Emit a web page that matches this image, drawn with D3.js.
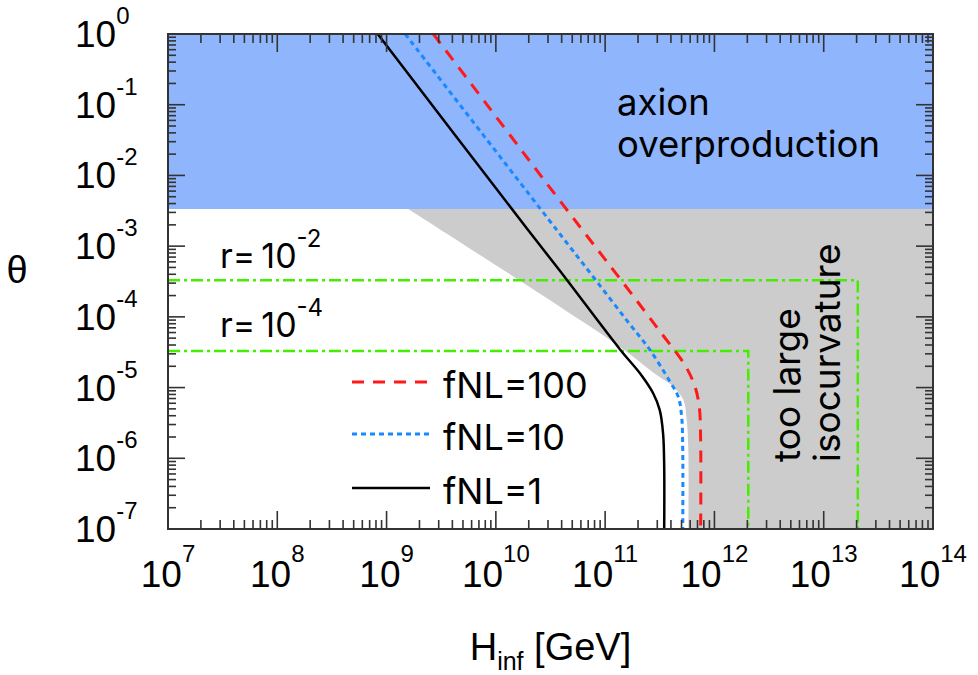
<!DOCTYPE html>
<html>
<head>
<meta charset="utf-8">
<script src="https://cdn.jsdelivr.net/npm/d3@7"></script>
<style>
body { margin: 0; background: #fff; }
</style>
</head>
<body>
<svg id="chart" width="978" height="675"></svg>
<script>
// curves: H_inf [GeV] and theta
var fnl100H = [2.68e9, 4.14e10, 1.52e11, 3.18e11, 5.37e11, 6.64e11, 7.26e11, 7.48e11, 7.48e11];
var fnl100Theta = [1, 3.8e-3, 2.8e-4, 6.2e-5, 2.08e-5, 1.03e-5, 5.4e-6, 1.81e-6, 1e-7];

var fnl10H = [1.48e9, 3.61e10, 7.8e10, 1.57e11, 2.57e11, 3.92e11, 4.67e11, 5.01e11, 5.13e11, 5.13e11];
var fnl10Theta = [1, 1.69e-3, 3.66e-4, 9.0e-5, 3.4e-5, 1.21e-5, 7.4e-6, 3.9e-6, 1.31e-6, 1e-7];

var fnl1H = [8.3e8, 1.9e10, 3.9e10, 1.38e11, 2.09e11, 2.75e11, 3.16e11, 3.39e11, 3.47e11, 3.47e11];
var fnl1Theta = [1, 1.82e-3, 4.37e-4, 3.4e-5, 1.58e-5, 8.3e-6, 4.8e-6, 2.24e-6, 7.6e-7, 1e-7];

// edge of the "too large isocurvature" region
var isoH = [1.58e9, 3.86e10, 1.37e11, 2.96e11, 4.2e11, 5.19e11, 5.57e11, 5.77e11, 5.77e11];
var isoTheta = [3.35e-3, 1.39e-4, 3.74e-5, 1.5e-5, 1.03e-5, 6.7e-6, 3.5e-6, 1.31e-6, 1e-7];

var overproductionTheta = 3.35e-3;

// r = 1e-2 and r = 1e-4 boxes
var rLabels = ["-2", "-4"];
var rTheta = [3.3e-4, 3.3e-5];
var rHmax = [2.05e13, 2.04e12];

var xTickExps = [7, 8, 9, 10, 11, 12, 13, 14];
var yTickExps = [0, -1, -2, -3, -4, -5, -6, -7];

var seriesNames = ["fNL=100", "fNL=10", "fNL=1"];

var svg = d3.select("#chart");
var plotLeft = 168, plotRight = 933, plotTop = 34, plotBottom = 529;

var x = d3.scaleLog().domain([1e7, 1e14]).range([plotLeft, plotRight]);
var y = d3.scaleLog().domain([1e-7, 1]).range([plotBottom, plotTop]);

svg.append("defs").append("clipPath").attr("id", "plotclip")
    .append("rect")
    .attr("x", plotLeft).attr("y", plotTop)
    .attr("width", plotRight - plotLeft).attr("height", plotBottom - plotTop);

var g = svg.append("g").attr("clip-path", "url(#plotclip)");

// blue band
g.append("rect")
    .attr("x", plotLeft).attr("y", plotTop)
    .attr("width", plotRight - plotLeft)
    .attr("height", y(overproductionTheta) - plotTop)
    .attr("fill", "#8fb5fc");

// gray region
var isoPts = isoH.map(function(h, i){ return [x(h), y(isoTheta[i])]; });
var corner = [[x(1e14), y(1e-7)], [x(1e14), y(overproductionTheta)]];
g.append("path")
    .attr("d", d3.line().curve(d3.curveCatmullRom)(isoPts) +
        "L" + corner.map(function(p){ return p.join(","); }).join("L") + "Z")
    .attr("fill", "#cccccc");

// green dash-dot boxes
rTheta.forEach(function(t, i){
  g.append("path")
      .attr("d", d3.line()([[x(1e7), y(t)], [x(rHmax[i]), y(t)], [x(rHmax[i]), y(1e-7)]]))
      .attr("fill", "none")
      .attr("stroke", "#44ee00")
      .attr("stroke-width", 2.5)
      .attr("stroke-dasharray", "12,4,3,4");
});

// fNL curves
var curveStyle = [
  {color: "#ff1a1a", dash: "12,9", width: 3},
  {color: "#1a88ff", dash: "5,4", width: 3},
  {color: "#000000", dash: null, width: 2.5}
];
var curveData = [[fnl100H, fnl100Theta], [fnl10H, fnl10Theta], [fnl1H, fnl1Theta]];
var line = d3.line()
    .x(function(d){ return x(d[0]); })
    .y(function(d){ return y(d[1]); })
    .curve(d3.curveCatmullRom);

curveData.forEach(function(c, i){
  var pts = c[0].map(function(h, j){ return [h, c[1][j]]; });
  g.append("path")
      .attr("d", line(pts))
      .attr("fill", "none")
      .attr("stroke", curveStyle[i].color)
      .attr("stroke-width", curveStyle[i].width)
      .attr("stroke-dasharray", curveStyle[i].dash);
});

// annotations
var annoFont = "Inter, 'Noto Sans', sans-serif";
svg.append("text").attr("x", 617).attr("y", 115)
    .attr("font-family", annoFont).attr("font-size", 36.5).text("axion");
svg.append("text").attr("x", 617).attr("y", 157)
    .attr("font-family", annoFont).attr("font-size", 36.5).text("overproduction");

rLabels.forEach(function(r, i){
  var t = svg.append("text")
      .attr("x", 220).attr("y", [268, 337][i])
      .attr("font-family", annoFont).attr("font-size", 34);
  t.append("tspan").text("r=");
  t.append("tspan").attr("dx", 6).text("10");
  t.append("tspan").attr("dy", -21).attr("font-size", 24).text(r);
});

svg.append("text")
    .attr("transform", "translate(800,462) rotate(-90)")
    .attr("font-family", annoFont).attr("font-size", 37).text("too large");
svg.append("text")
    .attr("transform", "translate(840,462) rotate(-90)")
    .attr("font-family", annoFont).attr("font-size", 37).text("isocurvature");

// legend
var legendY = [382, 434, 488];
seriesNames.forEach(function(name, i){
  svg.append("line")
      .attr("x1", 352).attr("x2", 430)
      .attr("y1", legendY[i]).attr("y2", legendY[i])
      .attr("stroke", curveStyle[i].color)
      .attr("stroke-width", curveStyle[i].width)
      .attr("stroke-dasharray", curveStyle[i].dash);
  svg.append("text")
      .attr("x", 443).attr("y", legendY[i] + 16)
      .attr("font-family", annoFont).attr("font-size", 36)
      .text(name);
});

// frame and ticks
var axisColor = "#333";
var xt = x.ticks();
var yt = y.ticks();
function isMajor(v){ return Math.abs(Math.log10(v) - Math.round(Math.log10(v))) < 1e-6; }

var ticks = svg.append("g").attr("stroke", axisColor).attr("stroke-width", 1.6);
xt.forEach(function(v){
  var len = isMajor(v) ? 18 : 9;
  ticks.append("line").attr("x1", x(v)).attr("x2", x(v)).attr("y1", plotBottom).attr("y2", plotBottom - len);
  ticks.append("line").attr("x1", x(v)).attr("x2", x(v)).attr("y1", plotTop).attr("y2", plotTop + len);
});
yt.forEach(function(v){
  var len = isMajor(v) ? 17 : 8;
  ticks.append("line").attr("x1", plotLeft).attr("x2", plotLeft + len).attr("y1", y(v)).attr("y2", y(v));
  ticks.append("line").attr("x1", plotRight).attr("x2", plotRight - len).attr("y1", y(v)).attr("y2", y(v));
});

svg.append("rect")
    .attr("x", plotLeft).attr("y", plotTop)
    .attr("width", plotRight - plotLeft).attr("height", plotBottom - plotTop)
    .attr("fill", "none").attr("stroke", axisColor).attr("stroke-width", 2);

// tick labels
var tickFont = "'Liberation Sans', Arial, sans-serif";
xTickExps.forEach(function(e){
  var t = svg.append("text")
      .attr("x", x(Math.pow(10, e))).attr("y", 587)
      .attr("text-anchor", "middle")
      .attr("font-family", tickFont).attr("font-size", 37);
  t.append("tspan").text("10");
  t.append("tspan").attr("dy", -25).attr("font-size", 24).text(e);
});
yTickExps.forEach(function(e){
  var t = svg.append("text")
      .attr("x", 75).attr("y", y(Math.pow(10, e)) + 13)
      .attr("font-family", tickFont).attr("font-size", 37);
  t.append("tspan").text("10");
  t.append("tspan").attr("dy", -23).attr("font-size", 24).text(e === 0 ? "0" : "-" + (-e));
});

// axis titles
svg.append("text")
    .attr("x", 17).attr("y", 283)
    .attr("text-anchor", "middle")
    .attr("font-family", tickFont).attr("font-size", 38)
    .text("θ");
var xl = svg.append("text")
    .attr("x", (plotLeft + plotRight) / 2).attr("y", 660)
    .attr("text-anchor", "middle")
    .attr("font-family", tickFont).attr("font-size", 38);
xl.append("tspan").text("H");
xl.append("tspan").attr("dy", 10).attr("font-size", 25).text("inf");
xl.append("tspan").attr("dy", -10).text(" [GeV]");
</script>
</body>
</html>
